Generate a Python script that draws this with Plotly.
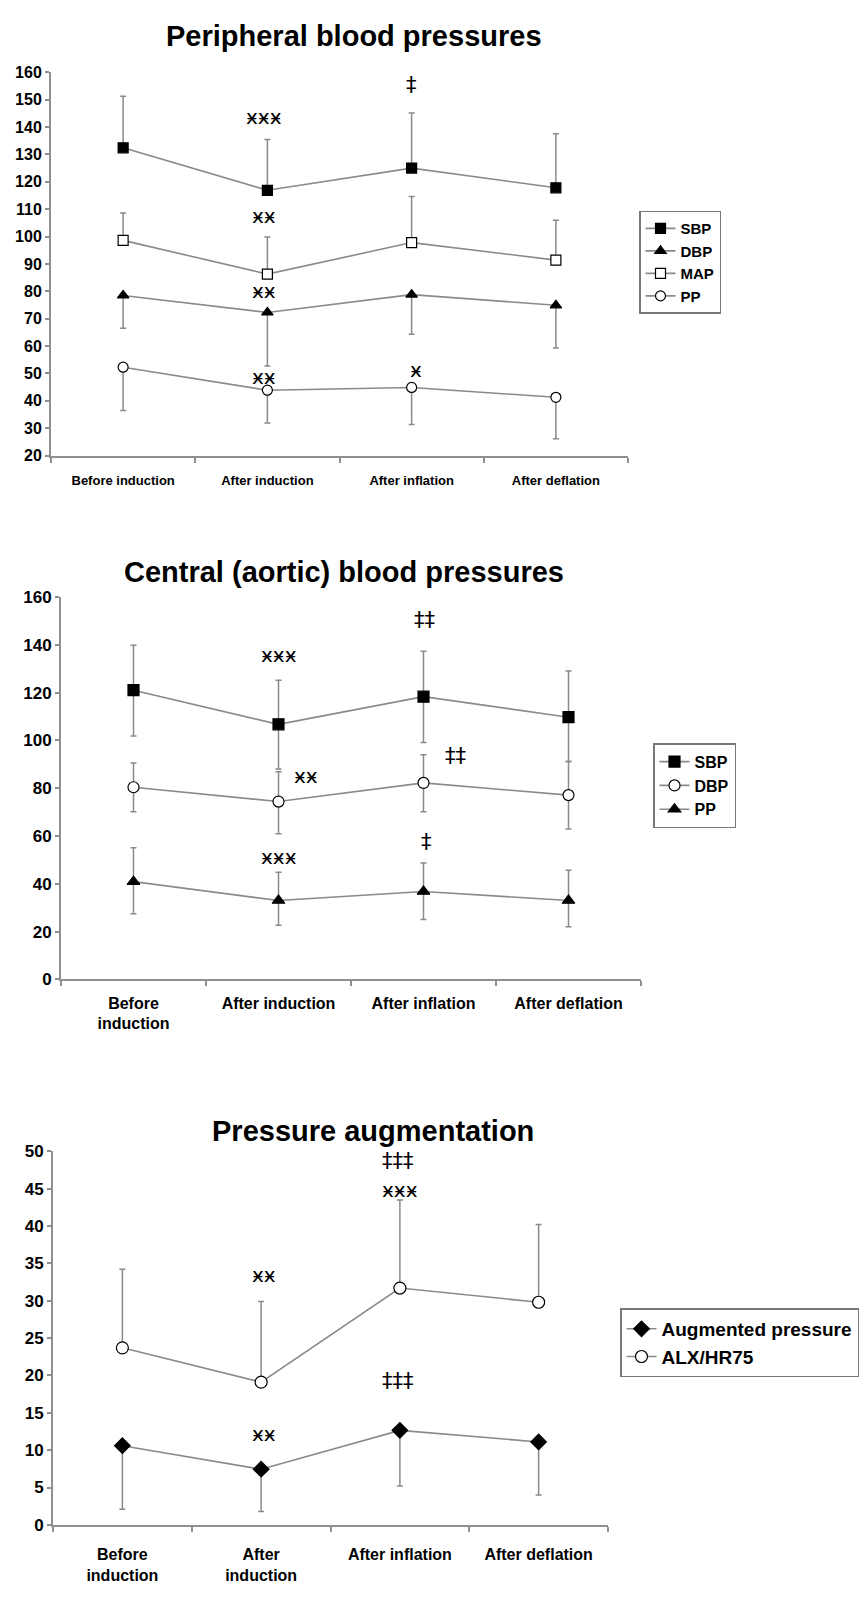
import plotly.graph_objects as go

# ---------------- data ----------------
categories = ["Before induction", "After induction", "After inflation", "After deflation"]
labels_p1 = ["Before induction", "After induction", "After inflation", "After deflation"]
labels_p2 = ["Before<br>induction", "After induction", "After inflation", "After deflation"]
labels_p3 = ["Before<br>induction", "After<br>induction", "After inflation", "After deflation"]

# Peripheral blood pressures
per_sbp = [132.4, 116.9, 125.0, 117.8]
per_sbp_err_up = [18.8, 18.5, 20.1, 19.7]
per_dbp = [78.5, 72.3, 78.8, 74.9]
per_dbp_err_down = [12.0, 19.6, 14.5, 15.6]
per_map = [98.6, 86.3, 97.8, 91.4]
per_map_err_up = [10.0, 13.5, 16.8, 14.6]
per_pp = [52.3, 43.9, 44.9, 41.3]
per_pp_err_down = [15.8, 12.0, 13.5, 15.1]

# Central (aortic) blood pressures
cen_sbp = [121.0, 106.7, 118.3, 109.7]
cen_sbp_err_up = [18.8, 18.5, 19.0, 19.3]
cen_sbp_err_down = [19.2, 18.7, 19.2, 18.5]
cen_dbp = [80.4, 74.4, 82.2, 77.1]
cen_dbp_err_up = [10.1, 12.5, 11.8, 14.1]
cen_dbp_err_down = [10.3, 13.5, 12.1, 14.2]
cen_pp = [40.9, 33.0, 36.8, 33.0]
cen_pp_err_up = [14.2, 11.8, 11.9, 12.7]
cen_pp_err_down = [13.4, 10.3, 11.7, 11.0]

# Pressure augmentation
aug_pressure = [10.6, 7.45, 12.65, 11.1]
aug_pressure_err_down = [8.5, 5.65, 7.45, 7.1]
alx_hr75 = [23.7, 19.1, 31.7, 29.8]
alx_hr75_err_up = [10.5, 10.8, 11.8, 10.4]

# significance marks: (text, category index, value)
marks_p1 = [("ӿӿӿ", 0.98, 143.7), ("ӿӿ", 0.98, 107.4), ("ӿӿ", 0.98, 80.0),
            ("ӿӿ", 0.98, 48.7), ("ӿ", 2.03, 51.2), ("‡", 2.0, 155.4)]
marks_p2 = [("ӿӿӿ", 1.0, 135.6), ("‡‡", 2.01, 150.4), ("ӿӿ", 1.19, 85.0),
            ("‡‡", 2.22, 93.5), ("ӿӿӿ", 1.0, 51.2), ("‡", 2.02, 57.4)]
marks_p3 = [("ӿӿ", 1.02, 33.4), ("‡‡‡", 1.99, 48.7), ("ӿӿӿ", 2.0, 44.8),
            ("‡‡‡", 1.99, 19.2), ("ӿӿ", 1.02, 12.1)]

# ---------------- styling ----------------
FONT = "Liberation Sans, Arial, sans-serif"
LINE_GREY = "#8a8a8a"
AXIS_GREY = "#8f8f8f"
ERR_GREY = "#8a8a8a"
W, H = 867, 1607

fig = go.Figure()


def add_series(y, xa, ya, legend, name, symbol, filled, size, up=None, down=None):
    err = None
    if up is not None or down is not None:
        err = dict(type="data", symmetric=False,
                   array=up if up is not None else [0] * len(y),
                   arrayminus=down if down is not None else [0] * len(y),
                   color=ERR_GREY, thickness=1.5, width=3)
    fig.add_trace(go.Scatter(
        x=categories, y=y, name=name, mode="lines+markers",
        xaxis=xa, yaxis=ya, legend=legend,
        line=dict(color=LINE_GREY, width=1.6),
        marker=dict(symbol=symbol, size=size,
                    color="black" if filled else "white",
                    line=dict(color="black", width=1.2)),
        error_y=err,
    ))


# Panel 1
add_series(per_sbp, "x", "y", "legend", "SBP", "square", True, 10, up=per_sbp_err_up)
add_series(per_dbp, "x", "y", "legend", "DBP", "triangle-up", True, 10, down=per_dbp_err_down)
add_series(per_map, "x", "y", "legend", "MAP", "square", False, 10, up=per_map_err_up)
add_series(per_pp, "x", "y", "legend", "PP", "circle", False, 10, down=per_pp_err_down)

# Panel 2
add_series(cen_sbp, "x2", "y2", "legend2", "SBP", "square", True, 11,
           up=cen_sbp_err_up, down=cen_sbp_err_down)
add_series(cen_dbp, "x2", "y2", "legend2", "DBP", "circle", False, 11,
           up=cen_dbp_err_up, down=cen_dbp_err_down)
add_series(cen_pp, "x2", "y2", "legend2", "PP", "triangle-up", True, 11,
           up=cen_pp_err_up, down=cen_pp_err_down)

# Panel 3
add_series(aug_pressure, "x3", "y3", "legend3", "Augmented pressure", "diamond", True, 12,
           down=aug_pressure_err_down)
add_series(alx_hr75, "x3", "y3", "legend3", "ALX/HR75", "circle", False, 12,
           up=alx_hr75_err_up)


def px_x(p):
    return p / W


def px_y(p):
    return 1 - p / H


def xaxis_cfg(left, right, ticktext, size, standoff, anchor):
    return dict(domain=[px_x(left), px_x(right)], type="category",
                categoryorder="array", categoryarray=categories,
                tickvals=categories, ticktext=ticktext, tickson="boundaries",
                ticks="outside", ticklen=5, tickcolor=AXIS_GREY, tickwidth=1.5,
                showline=True, linecolor=AXIS_GREY, linewidth=2,
                showgrid=False, zeroline=False, anchor=anchor,
                ticklabelstandoff=standoff,
                tickfont=dict(family=FONT, size=size, color="black", weight="bold"),
                range=[-0.5, 3.5], fixedrange=True)


def yaxis_cfg(bottom, top, rng, dtick, size, anchor):
    return dict(domain=[px_y(bottom), px_y(top)], range=rng, dtick=dtick,
                tick0=rng[0], ticks="outside", ticklen=4, tickcolor=AXIS_GREY,
                tickwidth=1.5, showline=True, linecolor=AXIS_GREY, linewidth=2,
                showgrid=False, zeroline=False, anchor=anchor,
                tickfont=dict(family=FONT, size=size, color="black", weight="bold"),
                fixedrange=True)


layout = dict(
    width=W, height=H, autosize=False,
    margin=dict(l=0, r=0, t=0, b=0),
    paper_bgcolor="white", plot_bgcolor="white",
    showlegend=True,
    xaxis=xaxis_cfg(51, 628, labels_p1, 13, 12, "y"),
    yaxis=yaxis_cfg(452, 64, [20, 160], 10, 16, "x"),
    xaxis2=xaxis_cfg(61, 641, labels_p2, 16, 8, "y2"),
    yaxis2=yaxis_cfg(982, 595, [0, 160], 20, 17, "x2"),
    xaxis3=xaxis_cfg(53, 608, labels_p3, 16, 14, "y3"),
    yaxis3=yaxis_cfg(1534, 1156, [0, 50], 5, 17, "x3"),
)


def legend_cfg(x, y, size):
    return dict(x=px_x(x), y=px_y(y), xanchor="left", yanchor="top",
                bgcolor="white", bordercolor="#777777", borderwidth=1.5,
                font=dict(family=FONT, size=size, color="black", weight="bold"),
                tracegroupgap=0)


layout["legend"] = legend_cfg(639, 204, 15)
layout["legend2"] = legend_cfg(653, 743, 16)
layout["legend3"] = legend_cfg(620, 1315, 19)

annotations = []
titles = [("Peripheral blood pressures", 354, 27),
          ("Central (aortic) blood pressures", 344, 570),
          ("Pressure augmentation", 373, 1135)]
for text, cx, cy in titles:
    annotations.append(dict(text=text, xref="paper", yref="paper", x=px_x(cx), y=px_y(cy),
                            xanchor="center", yanchor="middle", showarrow=False,
                            font=dict(family=FONT, size=29, color="black", weight="bold")))

for marks, xr, yr in [(marks_p1, "x", "y"), (marks_p2, "x2", "y2"), (marks_p3, "x3", "y3")]:
    for text, cx, val in marks:
        is_dagger = "‡" in text
        annotations.append(dict(text=text, xref=xr, yref=yr, x=cx, y=val,
                                xanchor="center", yanchor="middle", showarrow=False,
                                font=dict(family="DejaVu Sans", size=21 if is_dagger else 20,
                                          color="black")))
layout["annotations"] = annotations

fig.update_layout(**layout)
fig.write_html("out.html", config={"displayModeBar": False},
               post_script="document.body.style.margin='0';document.body.style.padding='0';")
